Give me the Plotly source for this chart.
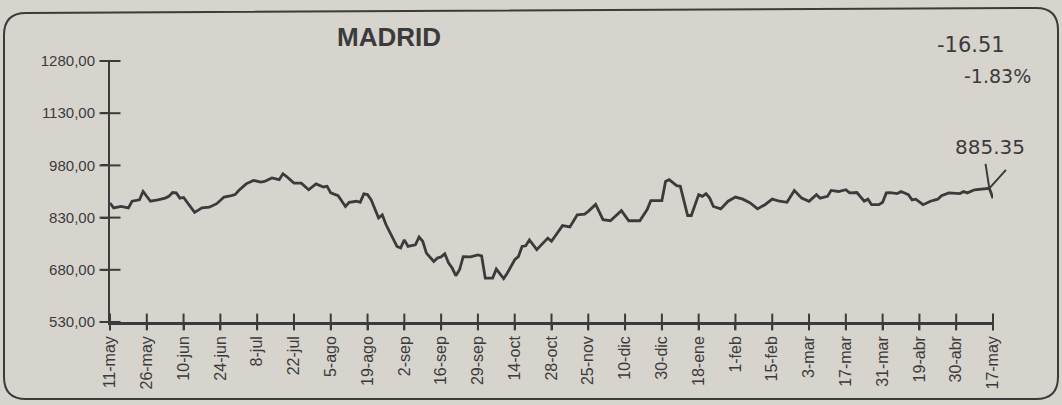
import plotly.graph_objects as go

# ---------------- data ----------------
# session index: 10 sessions between consecutive date labels
session = [0, 1, 3, 5, 6, 8, 9, 11, 13, 15, 16, 17, 18, 19, 20, 23, 25, 27, 29, 31,
           33, 34, 35, 37, 39, 41, 42, 44, 46, 47, 48, 50, 52, 54, 56, 58, 59, 60, 62, 64,
           65, 67, 68, 69, 70, 71, 73, 74, 75, 77, 78, 79, 80, 81, 83, 84, 85, 86, 88, 89,
           90, 91, 92, 93, 94, 95, 96, 98, 100, 101, 102, 104, 105, 107, 108, 110, 111, 112, 113, 114,
           116, 119, 120, 123, 125, 127, 129, 130, 132, 134, 136, 139, 141, 144, 146, 147, 150, 151, 152, 154,
           155, 157, 158, 160, 161, 162, 163, 164, 166, 168, 170, 172, 174, 176, 178, 180, 182, 184, 186, 188,
           190, 192, 193, 195, 196, 198, 200, 201, 203, 205, 206, 207, 209, 210, 211, 212, 214, 215, 217, 218,
           219, 221, 223, 225, 226, 228, 231, 232, 233, 235, 237, 239, 240]
close = [872, 858, 862, 858, 877, 881, 905, 877, 881, 886, 891, 902, 901, 886, 888, 845, 858, 860, 870, 889,
         893, 896, 908, 927, 937, 932, 934, 944, 939, 956, 948, 929, 929, 910, 927, 918, 920, 901, 893, 862,
         874, 877, 874, 898, 896, 881, 829, 838, 810, 771, 747, 743, 766, 747, 752, 774, 762, 728, 704, 714,
         717, 726, 700, 685, 663, 680, 718, 717, 723, 720, 656, 656, 682, 655, 671, 709, 718, 747, 749, 766,
         738, 771, 762, 807, 803, 838, 840, 848, 868, 824, 821, 850, 821, 821, 853, 879, 879, 934, 939, 922,
         920, 836, 836, 896, 891, 899, 886, 862, 855, 877, 889, 883, 872, 855, 867, 883, 877, 874, 908, 886,
         877, 896, 886, 891, 908, 905, 910, 901, 902, 877, 883, 867, 867, 874, 901, 902, 899, 905, 896, 881,
         883, 867, 877, 883, 893, 901, 899, 905, 901, 910, 912, 914, 885.35]

tick_session = list(range(0, 241, 10))
tick_dates = ["11-may", "26-may", "10-jun", "24-jun", "8-jul", "22-jul", "5-ago", "19-ago",
              "2-sep", "16-sep", "29-sep", "14-oct", "28-oct", "25-nov", "10-dic", "30-dic",
              "18-ene", "1-feb", "15-feb", "3-mar", "17-mar", "31-mar", "19-abr", "30-abr", "17-may"]
y_ticks = [530, 680, 830, 980, 1130, 1280]
y_tick_text = ["530,00", "680,00", "830,00", "980,00", "1130,00", "1280,00"]

title_text = "MADRID"
last_close = 885.35
change = -16.51
change_pct = -1.83

# ---------------- styling ----------------
INK = "#3b3b3b"
PAPER = "#d7d4ce"
W, H = 1062, 405
ML, MR, MT, MB = 110, 69, 61, 83
PW, PH = W - ML - MR, H - MT - MB
FONT = "Liberation Sans, Arial, sans-serif"
WIDE = "DejaVu Sans, sans-serif"


def px(x):
    return (x - ML) / PW


def py(y):
    return (H - MB - y) / PH


fig = go.Figure()
fig.add_trace(go.Scatter(x=session, y=close, mode="lines",
                         line=dict(color=INK, width=2.8), hoverinfo="skip",
                         showlegend=False))
# cross-shaped tick marks (centred on the axes)
fig.add_trace(go.Scatter(x=tick_session, y=[y_ticks[0]] * len(tick_session), mode="markers",
                         marker=dict(symbol="line-ns", size=12,
                                     line=dict(color=INK, width=2)),
                         cliponaxis=False, hoverinfo="skip", showlegend=False))
fig.add_trace(go.Scatter(x=[tick_session[0]] * len(y_ticks), y=y_ticks, mode="markers",
                         marker=dict(symbol="line-ew", size=15,
                                     line=dict(color=INK, width=2)),
                         cliponaxis=False, hoverinfo="skip", showlegend=False))

axis_common = dict(showgrid=False, zeroline=False, tickcolor=INK, tickwidth=2, automargin=False)
fig.update_layout(
    width=W, height=H,
    margin=dict(l=ML, r=MR, t=MT, b=MB, pad=0),
    paper_bgcolor=PAPER, plot_bgcolor=PAPER,
    xaxis=dict(range=[0, 240], tickmode="array", tickvals=tick_session, ticktext=tick_dates,
               tickangle=-90, ticks="outside", ticklen=5, showline=True, linewidth=2.5,
               linecolor=INK, tickfont=dict(family=FONT, size=16, color=INK), **axis_common),
    yaxis=dict(range=[530, 1280], tickmode="array", tickvals=y_ticks, ticktext=y_tick_text,
               ticks="outside", ticklen=7, showline=True, linewidth=2, linecolor=INK,
               ticklabelstandoff=3,
               tickfont=dict(family=FONT, size=15, color=INK), **axis_common),
)

# frame with rounded corners
L, R, T_left, T_right, B, r = 4, 1058, 13, 8, 399, 22
path = (f"M {px(L)},{py(B - r)} L {px(L)},{py(T_left + r)} "
        f"Q {px(L)},{py(T_left)} {px(L + r)},{py(T_left)} "
        f"L {px(R - r)},{py(T_right)} Q {px(R)},{py(T_right)} {px(R)},{py(T_right + r)} "
        f"L {px(R)},{py(B - r)} Q {px(R)},{py(B)} {px(R - r)},{py(B)} "
        f"L {px(L + r)},{py(B)} Q {px(L)},{py(B)} {px(L)},{py(B - r)} Z")
fig.add_shape(type="path", path=path, xref="paper", yref="paper",
              line=dict(color=INK, width=2), layer="below")

fig.add_annotation(text=f"<b>{title_text}</b>", xref="paper", yref="paper",
                   x=px(389), y=py(37), xanchor="center", yanchor="middle", showarrow=False,
                   font=dict(family=FONT, size=26, color=INK))
fig.add_annotation(text=f"{change:.2f}", xref="paper", yref="paper",
                   x=px(1007), y=py(45), xanchor="right", yanchor="middle", showarrow=False,
                   font=dict(family=WIDE, size=21, color=INK))
fig.add_annotation(text=f"{change_pct:.2f}%", xref="paper", yref="paper",
                   x=px(1033), y=py(76), xanchor="right", yanchor="middle", showarrow=False,
                   font=dict(family=WIDE, size=19, color=INK))
fig.add_annotation(text=f"{last_close:.2f}", xref="paper", yref="paper",
                   x=px(1027), y=py(147), xanchor="right", yanchor="middle", showarrow=False,
                   font=dict(family=WIDE, size=20, color=INK))
# hand-drawn style "V" arrow pointing at the end of the line
for ax, ay in [(-4, -26), (18, -20)]:
    fig.add_annotation(x=session[-2], y=close[-2], ax=ax, ay=ay, text="",
                       showarrow=True, arrowhead=0, arrowwidth=2, arrowcolor=INK)

fig.write_html("out.html", config={"displayModeBar": False},
               post_script="document.body.style.margin='0';")
